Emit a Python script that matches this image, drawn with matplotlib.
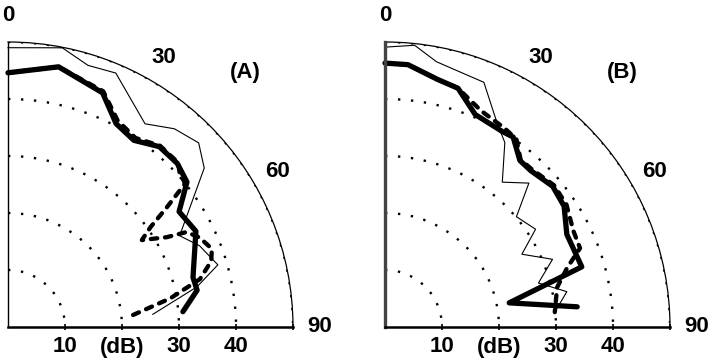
import numpy as np
import matplotlib
matplotlib.use("Agg")
import matplotlib.pyplot as plt
from matplotlib.transforms import offset_copy

plt.rcParams['font.family'] = ['Liberation Sans', 'DejaVu Sans']

# angle (deg from vertical) / level (dB)
a_thick_ang = [0, 11, 22, 28, 34, 40, 46, 51, 56, 63, 75, 79, 85]
a_thick_db = [44.6, 46.5, 44.3, 40.4, 39.5, 41.3, 41.3, 40.4, 36.2, 37.0, 33.6, 33.8, 30.8]

a_dash_ang = [0, 11, 22, 28, 34, 40, 46, 48, 51, 53, 55, 57, 60.5, 62, 65, 69, 72, 76, 80, 85]
a_dash_db = [44.6, 46.5, 44.6, 41.0, 40.0, 41.5, 41.5, 40.5, 40.0, 34.9, 30.5, 28.0, 32.0, 35.5,
             37.1, 38.3, 37.5, 34.7, 28.9, 21.5]

a_thin_ang = [0, 11, 17, 23, 34, 40, 46, 51, 62, 67, 73.5, 78, 85]
a_thin_db = [49.0, 49.9, 48.0, 48.4, 43.0, 45.4, 46.5, 44.3, 34.1, 36.5, 38.4, 33.9, 25.5]

b_thick_ang = [0, 5, 12, 17, 23, 31, 34, 39, 43, 50, 56, 63, 73, 79, 84]
b_thick_db = [46.3, 46.2, 44.4, 43.8, 40.5, 40.0, 40.2, 37.6, 37.5, 38.4, 37.9, 35.8, 36.1, 22.2, 33.9]

b_dash_ang = [0, 5, 12, 17, 24, 31, 35, 39, 43, 50, 56, 63, 68, 72, 77, 85]
b_dash_db = [46.3, 46.2, 44.4, 43.8, 41.5, 40.7, 40.2, 37.8, 37.8, 38.7, 38.4, 37.1, 36.9, 33.6, 31.0, 29.9]

b_thin_ang = [0, 6, 11, 22, 29, 33, 39, 45, 50, 57, 62, 68, 74, 79, 85]
b_thin_db = [49.1, 49.7, 47.4, 46.3, 40.7, 38.6, 32.7, 35.7, 30.1, 31.5, 27.2, 31.7, 28.0, 32.5, 29.9]

grid_db = [10, 20, 30, 40, 50]
db_labels = ['10', '(dB)', '30', '40']
ang_labels = [0, 30, 60, 90]

fig = plt.figure(figsize=(7.11, 3.61), dpi=100)


def panel(x0, thick, dash, thin, tag, left_lw, left_col):
    ax = fig.add_axes([x0 / 711, 34 / 361, 285 / 711, 285 / 361], projection='polar')
    ax.set_theta_zero_location('N')
    ax.set_theta_direction(-1)
    ax.set_thetamin(0)
    ax.set_thetamax(90)
    ax.set_ylim(0, 50)
    ax.set_xticks([])
    ax.set_yticks(grid_db)
    ax.set_yticklabels([])
    ax.tick_params(axis='y', length=0)
    ax.yaxis.grid(True, color='black', linestyle=(0, (1, 4.5)), linewidth=1.7)
    ax.spines['polar'].set_linewidth(0.9)
    ax.spines['end'].set_linewidth(1.8)
    ax.spines['start'].set_linewidth(left_lw)
    ax.spines['start'].set_color(left_col)

    ax.plot(np.radians(thin[0]), thin[1], color='black', lw=0.8, clip_on=False)
    ax.plot(np.radians(dash[0]), dash[1], color='black', lw=3.1, dashes=(1.5, 1.8),
            dash_capstyle='round', clip_on=False)
    ax.plot(np.radians(thick[0]), thick[1], color='black', lw=3.8, solid_joinstyle='round',
            solid_capstyle='round', clip_on=False)

    # small ticks on the bottom axis
    ax.plot(np.radians([90] * len(grid_db)), grid_db, ls='none', marker='|', ms=5,
            mew=1.2, color='black', clip_on=False)

    below = offset_copy(ax.transData, fig=fig, x=0, y=-20, units='dots')
    for r, lab in zip(grid_db, db_labels):
        ax.text(np.radians(90), r, lab, transform=below, ha='center', va='center',
                fontsize=16, fontweight='bold')
    for a in ang_labels:
        ax.text(np.radians(a), 54.6, str(a), ha='center', va='center',
                fontsize=16, fontweight='bold')
    ax.text(np.radians(43), 61, tag, ha='center', va='center', fontsize=16, fontweight='bold')
    return ax


panel(8, (a_thick_ang, a_thick_db), (a_dash_ang, a_dash_db), (a_thin_ang, a_thin_db),
      '(A)', 1.0, 'black')
panel(385, (b_thick_ang, b_thick_db), (b_dash_ang, b_dash_db), (b_thin_ang, b_thin_db),
      '(B)', 2.4, '#444444')

fig.savefig('out.png', dpi=100)
